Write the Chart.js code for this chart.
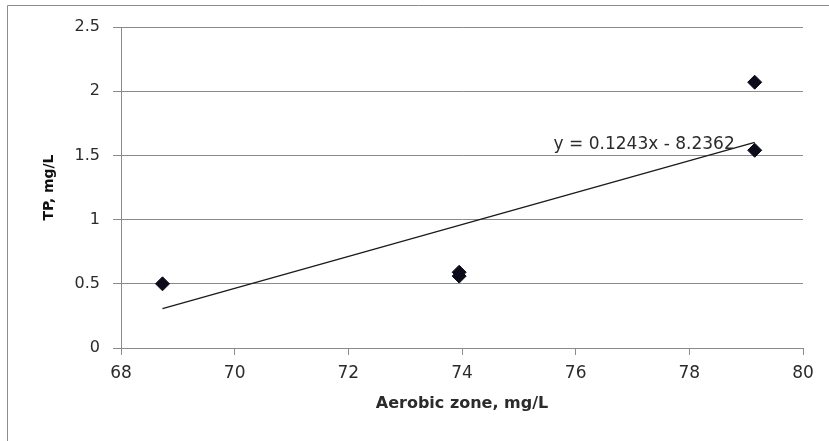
<!DOCTYPE html>
<html lang="en">
<head>
  <meta charset="UTF-8" />
  <title>TP vs Aerobic zone</title>
  <script src="https://cdnjs.cloudflare.com/ajax/libs/Chart.js/4.4.1/chart.umd.js"></script>
  <style>
    html, body {
      margin: 0;
      padding: 0;
      background: #fff;
      overflow: hidden;
    }
    canvas { display: block; }
  </style>
</head>
<body>
  <canvas id="chart" width="829" height="441"></canvas>

  <script>
    // measured points (x = aerobic zone, y = TP)
    const aerobic = [68.73, 73.95, 73.95, 79.15, 79.15];
    const tp = [0.50, 0.59, 0.56, 2.07, 1.54];

    // linear trendline as printed on the chart
    const slope = 0.1243;
    const intercept = -8.2362;
    const eqText = 'y = 0.1243x - 8.2362';

    const xTicks = [68, 70, 72, 74, 76, 78, 80];
    const yTicks = [0, 0.5, 1, 1.5, 2, 2.5];

    const xMin = Math.min(...aerobic);
    const xMax = Math.max(...aerobic);
    const trend = [xMin, xMax].map(x => ({ x, y: slope * x + intercept }));

    const FONT = '"DejaVu Sans", Verdana, sans-serif';
    const GRID = '#8a8a8a';
    const TEXT = '#2b2b2b';

    const frame = {
      id: 'frame',
      beforeDraw(chart) {
        const ctx = chart.ctx;
        ctx.save();
        ctx.fillStyle = '#fff';
        ctx.fillRect(0, 0, chart.width, chart.height);
        ctx.strokeStyle = '#8c8c8c';
        ctx.lineWidth = 1;
        ctx.beginPath();
        ctx.moveTo(7.5, 441);
        ctx.lineTo(7.5, 5.5);
        ctx.lineTo(829, 5.5);
        ctx.stroke();
        ctx.restore();
      }
    };

    const eqLabel = {
      id: 'eqLabel',
      afterDatasetsDraw(chart) {
        const { ctx, scales } = chart;
        const px = scales.x.getPixelForValue(xMax);
        const py = scales.y.getPixelForValue(slope * xMax + intercept);
        ctx.save();
        ctx.font = '17px ' + FONT;
        ctx.fillStyle = TEXT;
        ctx.textAlign = 'right';
        ctx.textBaseline = 'middle';
        ctx.fillText(eqText, px - 20, py + 2);
        ctx.restore();
      }
    };

    new Chart(document.getElementById('chart'), {
      type: 'scatter',
      data: {
        datasets: [
          {
            label: 'TP',
            data: aerobic.map((x, i) => ({ x, y: tp[i] })),
            pointStyle: 'rectRot',
            pointRadius: 7,
            pointHoverRadius: 7,
            backgroundColor: '#0b0b1a',
            borderColor: '#0b0b1a',
            borderWidth: 1,
            order: 1
          },
          {
            type: 'line',
            label: 'Linear',
            data: trend,
            borderColor: '#1a1a1a',
            borderWidth: 1.3,
            pointRadius: 0,
            fill: false,
            order: 2
          }
        ]
      },
      options: {
        responsive: false,
        animation: false,
        layout: { padding: { left: 38, right: 26, top: 27, bottom: 26 } },
        plugins: {
          legend: { display: false },
          tooltip: { enabled: false }
        },
        scales: {
          x: {
            type: 'linear',
            min: 68,
            max: 80,
            afterBuildTicks: s => { s.ticks = xTicks.map(v => ({ value: v })); },
            afterFit: s => { s.height = 67; },
            border: { display: true, color: GRID, width: 1 },
            grid: { drawOnChartArea: false, drawTicks: true, tickLength: 7, color: GRID },
            ticks: { font: { family: FONT, size: 17 }, color: TEXT, padding: 8, maxRotation: 0 },
            title: {
              display: true,
              text: 'Aerobic zone, mg/L',
              font: { family: FONT, size: 16, weight: 'bold' },
              color: TEXT,
              padding: { top: 0, bottom: 2 }
            }
          },
          y: {
            min: 0,
            max: 2.5,
            afterBuildTicks: s => { s.ticks = yTicks.map(v => ({ value: v })); },
            afterFit: s => { s.width = 83; },
            border: { display: true, color: GRID, width: 1 },
            grid: { color: GRID, tickLength: 8, drawTicks: true },
            ticks: {
              font: { family: FONT, size: 16 },
              color: TEXT,
              padding: 13,
              callback: v => String(v)
            },
            title: {
              display: true,
              text: 'TP, mg/L',
              font: { family: FONT, size: 14, weight: 'bold' },
              color: '#111',
              padding: { top: 3, bottom: 0 }
            }
          }
        }
      },
      plugins: [frame, eqLabel]
    });
  </script>
</body>
</html>
